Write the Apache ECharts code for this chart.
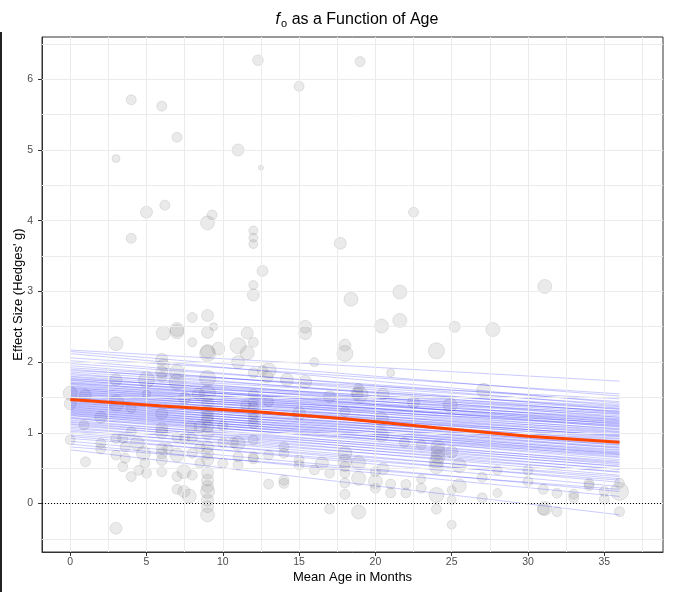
<!DOCTYPE html>
<html><head><meta charset="utf-8">
<script src="https://cdn.jsdelivr.net/npm/echarts@6/dist/echarts.min.js"></script>
<style>html,body{margin:0;padding:0;background:#fff}#c{width:675px;height:592px}</style>
</head><body><div id="c"></div>
<script>
// ---- data ----
const ages = [
12.3,19.0,15.0,4.0,6.0,7.0,3.0,11.0,12.5,6.2,5.0,9.3,9.0,4.0,12.0,12.0,12.0,17.7,12.6,12.0,12.0,18.4,22.5,21.6,31.1,
8.0,9.0,9.4,7.0,7.0,6.1,9.0,11.6,12.0,8.0,15.4,15.4,3.0,9.7,11.0,11.6,9.0,9.0,18.0,18.0,16.0,11.0,6.0,6.1,6.0,7.0,7.0,5.0,3.0,6.0,9.0,12.0,12.6,13.0,12.9,14.2,15.4,
20.4,21.6,25.2,27.7,24.0,21.0,18.9,19.0,20.5,22.5,24.9,27.1,
8.4,9.0,7.5,5.0,3.0,1.0,0,0,2.0,0.9,4.0,6.0,6.0,6.0,12.0,12.0,12.0,12.0,12.0,12.0,11.5,9.0,9.0,9.0,9.0,9.0,9.0,8.5,7.9,10.0,13.0,15.0,17.0,18.0,18.8,20.4,20.4,21.9,23.0,
0,1.0,2.0,2.0,3.0,3.0,3.45,3.6,3.6,3.45,4.0,4.0,4.4,4.8,4.9,4.5,5.0,6.0,6.0,6.0,6.0,6.4,7.0,7.0,7.0,7.0,7.45,7.45,7.8,7.5,8.0,8.0,8.5,8.5,8.0,
9.0,9.0,9.0,9.0,9.0,9.0,9.0,9.0,9.0,9.0,10.0,10.0,11.0,11.0,11.0,10.7,12.0,12.0,12.0,13.0,13.0,14.0,14.0,14.0,14.0,15.0,15.0,16.0,16.5,17.0,
18.0,18.0,18.0,18.0,18.0,18.0,17.0,18.9,18.9,18.9,3.0,
24.1,24.1,24.1,24.0,24.0,25.0,25.5,20.0,20.5,20.0,20.0,21.0,21.0,22.0,22.0,23.0,23.0,24.0,24.0,25.0,25.0,25.5,25.0,27.0,27.0,28.0,28.0,
30.0,30.0,31.0,31.1,31.0,31.9,31.9,33.0,33.0,34.0,34.0,35.0,35.0,36.0,36.0,36.0
];
const effects = [
6.27,6.25,5.90,5.71,5.62,5.18,4.88,5.00,4.75,4.22,4.12,4.08,3.97,3.75,3.86,3.76,3.67,3.68,3.29,3.09,2.95,2.89,4.12,2.99,3.07,
2.63,2.66,2.50,2.46,2.43,2.41,2.42,2.41,2.28,2.28,2.50,2.41,2.26,2.19,2.23,2.13,2.12,2.15,2.24,2.12,2.00,2.00,2.04,1.96,1.86,1.86,1.72,1.75,1.75,1.79,1.77,1.85,1.88,1.88,1.79,1.75,1.72,
2.51,2.59,2.50,2.46,2.16,1.85,1.63,1.54,1.55,1.43,1.39,1.60,
1.55,1.56,1.49,1.55,1.42,1.53,1.56,1.41,1.22,1.11,1.35,1.27,1.06,1.00,1.55,1.44,1.37,1.27,1.20,1.13,1.39,1.42,1.30,1.23,1.18,1.085,0.99,1.085,1.08,1.10,1.44,1.275,1.51,1.30,1.56,1.19,0.97,0.865,0.83,
0.90,0.59,0.85,0.77,0.92,0.685,0.92,0.80,0.64,0.52,1.015,0.38,0.85,0.71,0.57,0.47,0.43,0.78,0.71,0.615,0.45,0.78,0.935,0.685,0.38,0.20,0.45,0.17,0.105,0.92,0.92,0.71,0.80,0.57,0.40,
0.80,0.71,0.615,0.43,0.33,0.24,0.17,0.05,-0.045,-0.16,0.86,0.57,0.85,0.66,0.545,0.86,0.90,0.66,0.63,0.685,0.275,0.80,0.71,0.33,0.285,0.615,0.545,0.475,0.57,0.43,
0.71,0.59,0.52,0.43,0.29,0.13,-0.075,0.575,0.355,-0.12,-0.35,
0.80,0.73,0.66,0.59,0.52,0.73,0.535,0.45,0.49,0.31,0.215,0.275,0.15,0.27,0.15,0.345,0.215,0.12,-0.08,0.19,0.05,0.25,-0.30,0.37,0.08,0.47,0.15,
0.47,0.31,0.20,-0.07,-0.08,0.145,-0.115,0.13,0.08,0.285,0.25,0.17,0.06,0.285,0.17,-0.115
];
const weights = [
5.3,5,5,5,5,5,4,6,2.5,5,6,5,7,5,4.5,4.5,4.5,6,5.5,4.5,6,7,5,7,7,
5,6,4,7,7,7,6,6,5,4.5,6.5,6.5,7,6.5,8,7,8,7,6,8,4.5,6.5,6,6,6,7.5,8,8,6,5,8,5,5,7.5,6,6.5,6.5,
7,7,5.5,7,8,4,5,8,6,6,7,7,
6,8,6,4,8,6,7,6,6,5,5,6,6,6,5,5,5,5,5,5,5,6,6,6,6,6,6,6,6,5,5,6.5,6,5,6,7,7,5,5,
5,5,5,5,5,5,5,5,5,5,5,5,7,7,5,5,5,5.5,5.5,5.5,5,5,5,7,5,5,7,6,7,5,5,5,5,5,5,
6,6,6,6,6,6,7,6,6,7,5,5,7,5,5,5,5,5,5,5,5,5,5,5,5,5,5,5,6.5,5,
7,7,5,5,5,5,5,7,7,7,6,
7,7,7,7,7,6,7,5,6,7,5,5,5,5,5,4.5,5,7.5,5,4.5,4.5,7,4.5,5,5,4.5,4.5,
5,5,5,7,6,5,5,5,5,5,5,5,5,5,9,5
];
// posterior regression draws: fitted effect at age 0 and at age 36
const drawAges = [0, 36];
const drawStart = [2.17,2.15,2.12,2.06,2.02,1.98,1.95,1.92,1.90,1.88,1.86,1.84,1.82,1.80,1.79,1.77,1.76,1.75,1.74,1.72,1.71,1.70,1.69,1.68,1.66,1.65,1.64,1.63,1.62,1.61,1.60,1.59,1.58,1.57,1.56,1.55,1.54,1.53,1.52,1.51,1.50,1.49,1.48,1.47,1.46,1.45,1.44,1.43,1.42,1.41,1.40,1.39,1.38,1.37,1.36,1.35,1.34,1.33,1.32,1.31,1.30,1.29,1.28,1.27,1.26,1.25,1.24,1.22,1.21,1.20,1.18,1.16,1.15,1.13,1.12,1.10,1.08,1.06,1.04,1.02,1.00,0.97,0.95,0.92,0.88,0.84,0.80,0.76];
const drawEnd = [1.73,1.52,1.42,1.55,1.38,1.44,1.33,1.40,1.29,1.48,1.35,1.22,1.37,1.30,1.18,1.28,1.34,1.12,1.26,1.31,1.15,1.24,1.20,1.08,1.27,1.17,1.10,1.22,1.05,1.19,1.13,1.02,1.16,1.09,0.98,1.14,1.06,0.95,1.11,1.01,0.92,1.04,0.96,0.89,1.00,0.86,0.94,0.82,0.97,0.88,0.78,0.91,0.84,0.73,0.87,0.80,0.70,0.83,0.76,0.66,0.79,0.72,0.62,0.75,0.69,0.58,0.71,0.65,0.55,0.68,0.52,0.60,0.48,0.57,0.44,0.53,0.40,0.49,0.35,0.45,0.30,0.38,0.24,0.33,0.17,0.10,0.20,-0.16];
// mean fitted line
const meanAges = [0, 6, 12, 18, 24, 30, 36];
const meanFit = [1.47, 1.38, 1.30, 1.20, 1.07, 0.95, 0.865];
// axes
const xTicks = [0, 5, 10, 15, 20, 25, 30, 35];
const yTicks = [0, 1, 2, 3, 4, 5, 6];
const xGrid = [0, 2.5, 5, 7.5, 10, 12.5, 15, 17.5, 20, 22.5, 25, 27.5, 30, 32.5, 35, 37.5];
const yGrid = [-0.5, 0, 0.5, 1, 1.5, 2, 2.5, 3, 3.5, 4, 4.5, 5, 5.5, 6, 6.5];

const FONT = 'Liberation Sans, Arial, sans-serif';
const chart = echarts.init(document.getElementById('c'), null, {renderer: 'canvas'});

const series = [];
// grid lines
series.push({
  type: 'line', data: [], z: 0, silent: true,
  markLine: {
    silent: true, symbol: 'none', animation: false, label: {show: false},
    lineStyle: {color: '#ebebeb', width: 1, type: 'solid'},
    data: xGrid.map(v => ({xAxis: v})).concat(yGrid.map(v => ({yAxis: v})))
  }
});
// bubbles
series.push({
  type: 'scatter', z: 2,
  data: ages.map((a, i) => [a, effects[i], weights[i]]),
  symbolSize: v => v[2] * 2,
  itemStyle: {color: 'rgba(128,128,128,0.21)', borderColor: 'rgba(110,110,110,0.2)', borderWidth: 1}
});
// zero reference line
series.push({
  type: 'line', data: [], z: 3, silent: true,
  markLine: {
    silent: true, symbol: 'none', animation: false, label: {show: false},
    lineStyle: {color: '#000', width: 1, type: [1, 2]},
    data: [{yAxis: 0}]
  }
});
// posterior draws
for (let i = 0; i < Math.min(drawStart.length, drawEnd.length); i++) {
  series.push({
    type: 'line', z: 4, silent: true, showSymbol: false, symbol: 'none',
    data: [[drawAges[0], drawStart[i]], [drawAges[1], drawEnd[i]]],
    lineStyle: {color: 'rgba(10,10,255,0.27)', width: 0.8}
  });
}
// mean line
series.push({
  type: 'line', z: 5, silent: true, showSymbol: false, symbol: 'none',
  data: meanAges.map((a, i) => [a, meanFit[i]]),
  lineStyle: {color: '#ff4500', width: 3}
});

chart.setOption({
  animation: false,
  backgroundColor: '#fff',
  title: {
    text: '{it|f}{sub|o}{n| as a Function of Age}',
    left: 352, top: 5, textAlign: 'center',
    textStyle: {
      fontWeight: 'normal',
      rich: {
        it: {fontStyle: 'italic', fontWeight: 'normal', fontSize: 16, fontFamily: FONT, color: '#000'},
        sub: {fontSize: 11, fontWeight: 'normal', fontFamily: FONT, color: '#000', padding: [8, 0, 0, 1]},
        n: {fontSize: 16, fontWeight: 'normal', fontFamily: FONT, color: '#000'}
      }
    }
  },
  grid: {left: 42, right: 12, top: 37, bottom: 40, show: true, borderColor: '#333', borderWidth: 1,
         containLabel: false, outerBoundsMode: 'none'},
  xAxis: {
    type: 'value', min: -1.85, max: 38.85, splitNumber: 8,
    axisLine: {show: true, onZero: false, lineStyle: {color: '#333', width: 1}},
    axisTick: {show: true, length: 4, lineStyle: {color: '#333'}, customValues: xTicks},
    axisLabel: {color: '#4d4d4d', fontSize: 10.5, fontFamily: FONT, margin: 5, customValues: xTicks},
    splitLine: {show: false}, minorSplitLine: {show: false},
    name: 'Mean Age in Months', nameLocation: 'middle', nameGap: 19, nameMoveOverlap: false,
    nameTextStyle: {color: '#000', fontSize: 13, fontFamily: FONT}
  },
  yAxis: {
    type: 'value', min: -0.686, max: 6.598, splitNumber: 7,
    axisLine: {show: true, onZero: false, lineStyle: {color: '#333', width: 1}},
    axisTick: {show: true, length: 4, lineStyle: {color: '#333'}, customValues: yTicks},
    axisLabel: {color: '#4d4d4d', fontSize: 10.5, fontFamily: FONT, margin: 9, customValues: yTicks},
    splitLine: {show: false}, minorSplitLine: {show: false},
    name: "Effect Size (Hedges' g)", nameLocation: 'middle', nameGap: 17, nameRotate: 90, nameMoveOverlap: false,
    nameTextStyle: {color: '#000', fontSize: 13, fontFamily: FONT}
  },
  graphic: [{
    type: 'line', silent: true,
    shape: {x1: 1, y1: 32, x2: 1, y2: 592},
    style: {stroke: '#222', lineWidth: 2}
  }],
  series: series
});
</script>
</body></html>
